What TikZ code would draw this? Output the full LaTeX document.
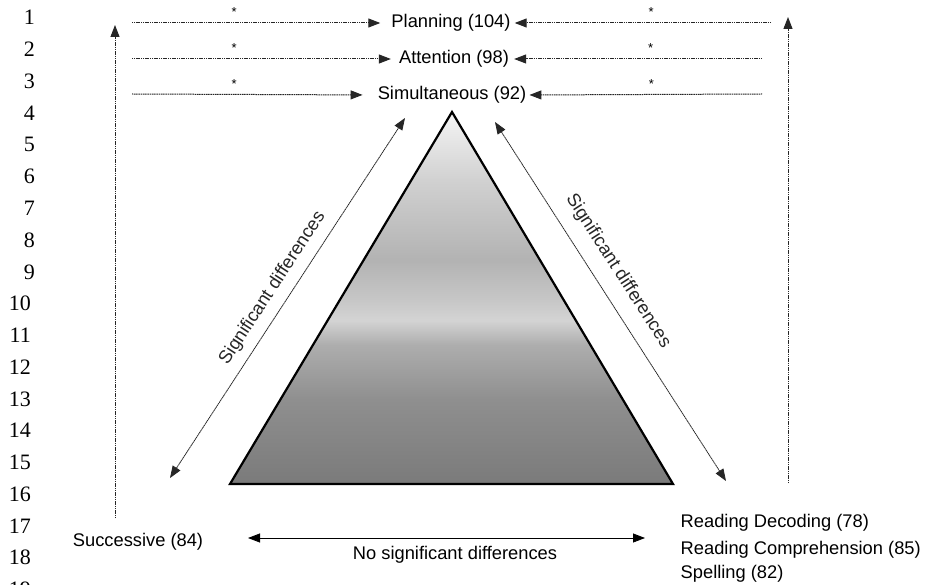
\documentclass[tikz,border=0pt]{standalone}
\usepackage{fontspec}
\setmainfont{Liberation Serif}
\setsansfont{Liberation Sans}
\usetikzlibrary{arrows.meta}
\pgfdeclareverticalshading{trishade}{100bp}{color(0bp)=(black!52); color(25bp)=(black!52); color(36.3bp)=(black!44); color(43.7bp)=(black!32); color(47bp)=(black!17); color(49.7bp)=(black!22); color(55.1bp)=(black!30); color(65.9bp)=(black!18); color(75bp)=(black!4); color(100bp)=(black!4)}
\begin{document}
\begin{tikzpicture}[x=1pt,y=-1pt,
  lbl/.style={font=\sffamily\fontsize{18.3}{22}\selectfont, inner sep=0pt},
  num/.style={font=\fontsize{22}{26}\selectfont, anchor=base east, inner sep=0pt},
  tipA/.style={-{Triangle[length=12pt,width=9pt]}},
  tipB/.style={{Triangle[length=12pt,width=9pt]}-{Triangle[length=12pt,width=9pt]}},
  dline/.style={line width=1pt, black!85, dash pattern=on 1.2pt off 0.6pt},
  dline2/.style={line width=0.8pt, black!85, dash pattern=on 1.5pt off 0.5pt},
  starlbl/.style={font=\sffamily\fontsize{13}{15}\selectfont, anchor=base, yshift=6pt, inner sep=0pt, black}
]
\useasboundingbox (0,0) rectangle (928,585);
\fill[white] (0,0) rectangle (928,585);

% line numbers
\foreach \n in {1,...,9} \node[num] (ln\n) at (35, {25+(\n-1)*31.75}) {\n};
\foreach \n in {10,...,19} \node[num] (ln\n) at (31, {25+(\n-1)*31.75}) {\n};

% triangle
\coordinate (apex) at (452,112);
\coordinate (bl) at (230,484);
\coordinate (br) at (673,484);
\shade[shading=trishade] (apex) -- (bl) -- (br) -- cycle;
\draw[line width=2.2pt, line join=miter] (apex) -- (bl) -- (br) -- cycle;

% top labels
\node[lbl] (plan) at (451,23) {Planning (104)};
\node[lbl] (att) at (454,59) {Attention (98)};
\node[lbl] (sim) at (452,95) {Simultaneous (92)};

\coordinate (pL) at (132,23); \coordinate (pR) at (771,23);
\coordinate (aL) at (132,59); \coordinate (aR) at (762,59);
\coordinate (sL) at (132,94); \coordinate (sR) at (762,94);

\draw[dline, tipA, shorten >=11pt] (pL) -- node[starlbl, pos=0.394]{*} (plan.west);
\draw[dline, tipA, shorten >=4pt] (pR) -- node[starlbl, pos=0.46]{*} (plan.east);
\draw[dline, tipA, shorten >=8pt] (aL) -- node[starlbl, pos=0.383]{*} (att.west);
\draw[dline, tipA, shorten >=5pt] (aR) -- node[starlbl, pos=0.44]{*} (att.east);
\draw[dline, tipA, shorten >=15pt] (sL) -- node[starlbl, pos=0.416]{*} (sim.west);
\draw[dline, tipA, shorten >=3pt] (sR) -- node[starlbl, pos=0.47]{*} (sim.east);

% vertical arrows
\coordinate (vLb) at (115,518); \coordinate (vLt) at (115,25);
\coordinate (vRb) at (788,483); \coordinate (vRt) at (788,17);
\draw[dline, tipA] (vLb) -- (vLt);
\draw[dline, tipA] (vRb) -- (vRt);

% diagonal arrows
\coordinate (dLb) at (170,478); \coordinate (dLt) at (405,118);
\coordinate (dRt) at (495,122); \coordinate (dRb) at (726,481);
\draw[dline2, tipB] (dLb) -- node[lbl, sloped, above=9pt, pos=0.5]{Significant differences} (dLt);
\draw[dline2, tipB] (dRt) -- node[lbl, sloped, above=14pt, pos=0.45]{Significant differences} (dRb);

% bottom
\node[lbl] (succ) at (138,541.3) {Successive (84)};
\coordinate (nL) at (248,538); \coordinate (nR) at (645,538);
\draw[line width=0.8pt, tipB] (nL) -- (nR);
\node[lbl] (nsd) at (455,555) {No significant differences};

\node[lbl, anchor=west] (rd) at (680.5,523) {Reading Decoding (78)};
\node[lbl, anchor=west] (rc) at (680.5,550) {Reading Comprehension (85)};
\node[lbl, anchor=west] (sp) at (680.5,573.3) {Spelling (82)};
\end{tikzpicture}
\end{document}
